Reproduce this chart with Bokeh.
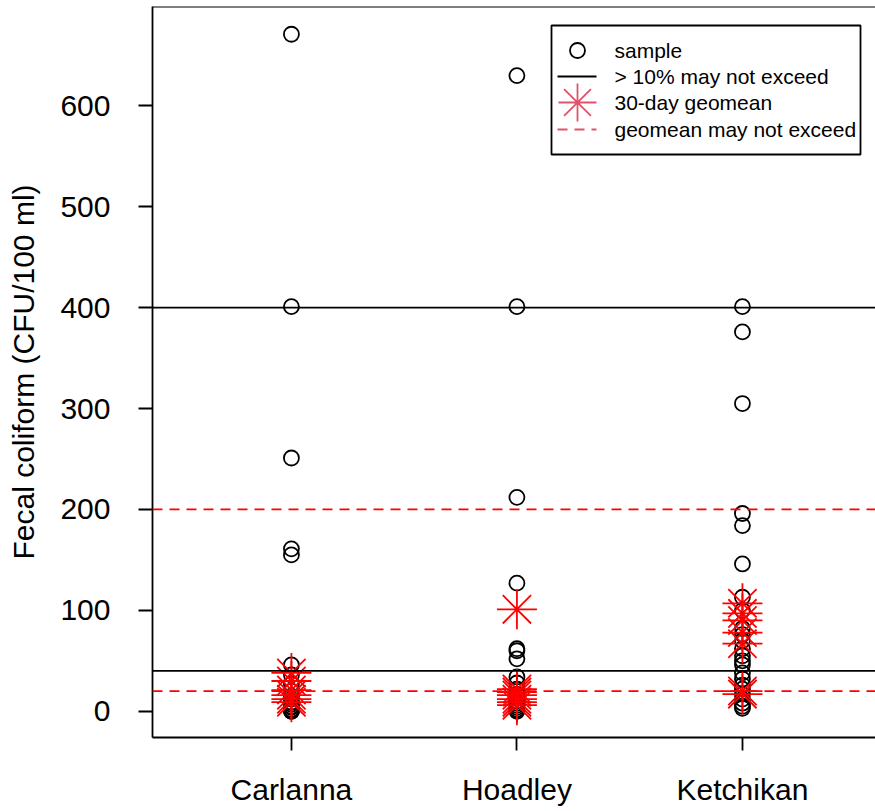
from bokeh.plotting import figure
from bokeh.models import Range1d, Span, FixedTicker
from bokeh.embed import file_html
from bokeh.resources import INLINE
from bokeh.core.properties import value

# Sampling sites along the x axis
sites = ["Carlanna", "Hoadley", "Ketchikan"]
site_pos = [1, 2, 3]

# Individual fecal coliform samples (CFU/100 ml)
carlanna_samples = [671, 401, 251, 161, 155, 46, 36, 27, 20, 15, 12, 9, 7, 5, 4, 2, 1, 0, 0]
hoadley_samples = [630, 401, 212, 127, 62, 60, 52, 34, 28, 22, 17, 13, 10, 8, 6, 4, 2, 1, 0]
ketchikan_samples = [401, 376, 305, 196, 184, 146, 113, 100, 82, 76, 70, 62, 55, 50, 46,
                     38, 32, 26, 22, 17, 12, 8, 5, 3]

# Rolling 30-day geometric means
carlanna_geomean = [38, 30, 21, 16, 12, 9]
hoadley_geomean = [101, 22, 19, 16, 12, 9, 6]
ketchikan_geomean = [107, 97, 90, 78, 67, 20, 17]

# Water quality criteria
single_sample_limits = [400, 40]   # > 10% of samples may not exceed
geomean_limits = [200, 20]         # geometric mean may not exceed

legend_labels = ["sample", "> 10% may not exceed", "30-day geomean", "geomean may not exceed"]

FONT = "Liberation Sans"
LW = 1.8

samples = [carlanna_samples, hoadley_samples, ketchikan_samples]
geomeans = [carlanna_geomean, hoadley_geomean, ketchikan_geomean]

sx, sy = [], []
for pos, vals in zip(site_pos, samples):
    sx += [pos] * len(vals)
    sy += vals
gx, gy = [], []
for pos, vals in zip(site_pos, geomeans):
    gx += [pos] * len(vals)
    gy += vals

p = figure(width=875, height=811, output_backend="svg", toolbar_location=None,
           x_range=Range1d(0.384, 3.59), y_range=Range1d(-26, 698.5),
           min_border_left=152, min_border_right=0, min_border_top=6,
           min_border_bottom=74, background_fill_color="white",
           border_fill_color="white")
p.outline_line_color = None
p.xgrid.visible = False
p.ygrid.visible = False

# axes
for ax in (p.xaxis[0], p.yaxis[0]):
    ax.axis_line_width = LW
    ax.axis_line_color = "black"
    ax.major_tick_line_width = LW
    ax.major_tick_line_color = "black"
    ax.major_tick_in = 0
    ax.minor_tick_line_color = None
    ax.major_label_text_font = FONT
    ax.major_label_text_font_size = "30px"
    ax.major_label_text_color = "black"

p.xaxis.ticker = FixedTicker(ticks=site_pos)
p.xaxis.major_label_overrides = {pos: name for pos, name in zip(site_pos, sites)}
p.xaxis.major_tick_out = 13
p.xaxis.major_label_standoff = 22

p.yaxis.ticker = FixedTicker(ticks=[0, 100, 200, 300, 400, 500, 600])
p.yaxis.major_tick_out = 14
p.yaxis.major_label_standoff = 28
p.yaxis.axis_label = "Fecal coliform (CFU/100 ml)"
p.yaxis.axis_label_text_font = FONT
p.yaxis.axis_label_text_font_size = "30px"
p.yaxis.axis_label_text_font_style = "normal"
p.yaxis.axis_label_text_color = "black"
p.yaxis.axis_label_standoff = 17

# top edge of the box
p.add_layout(Span(location=p.y_range.end, dimension="width", line_color="black",
                  line_width=LW))

# criteria lines
for lim in single_sample_limits:
    p.add_layout(Span(location=lim, dimension="width", line_color="black", line_width=LW))
for lim in geomean_limits:
    p.add_layout(Span(location=lim, dimension="width", line_color="red",
                      line_width=LW, line_dash="10 7"))

# samples and geomeans
p.scatter(sx, sy, marker="circle", size=15, fill_color=None, line_color="black",
          line_width=LW)
p.scatter(gx, gy, marker="asterisk", size=40, line_color="red", line_width=LW)

# legend drawn in canvas-pixel coordinates
p.extra_x_ranges["px_x"] = Range1d(152, 875)
p.extra_y_ranges["px_y"] = Range1d(737, 6)
kw = dict(x_range_name="px_x", y_range_name="px_y")
PINK = "#DF536B"
p.quad(left=[551], right=[860], top=[25], bottom=[154], fill_color="white",
       line_color="black", line_width=LW, **kw)
p.scatter([577], [50], marker="circle", size=15, fill_color=None, line_color="black",
          line_width=LW, **kw)
p.segment([557], [76], [596], [76], line_color="black", line_width=LW, **kw)
p.scatter([577], [102], marker="asterisk", size=38, line_color=PINK, line_width=LW, **kw)
p.segment([557], [129], [596], [129], line_color=PINK, line_width=LW, line_dash="10 7", **kw)
p.text([614] * 4, [50, 76, 102, 129], text=legend_labels, text_baseline="middle",
       text_align="left", text_font=value(FONT), text_font_size="21px",
       text_color="black", **kw)

open("out.html", "w").write(file_html(p, INLINE))
